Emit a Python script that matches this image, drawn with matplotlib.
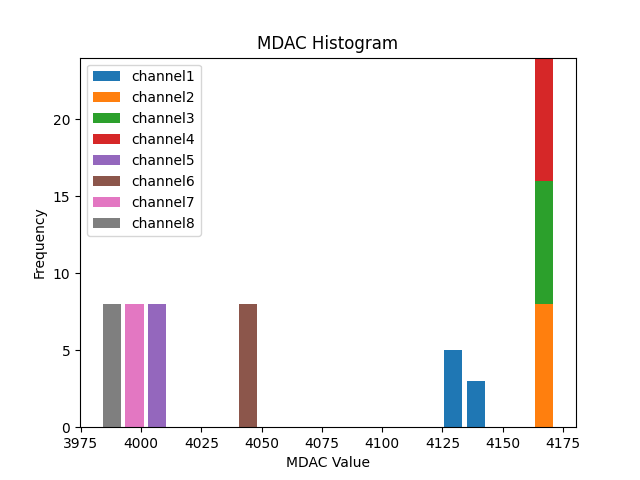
import matplotlib
matplotlib.use("Agg")
import matplotlib.pyplot as plt

# === DATA (8 readings per channel) ===
labels = ['channel1', 'channel2', 'channel3', 'channel4',
          'channel5', 'channel6', 'channel7', 'channel8']
channel1 = [4129, 4129, 4129, 4129, 4129, 4139, 4139, 4139]
channel2 = [4172] * 8
channel3 = [4172] * 8
channel4 = [4172] * 8
channel5 = [4006] * 8
channel6 = [4044] * 8
channel7 = [3997] * 8
channel8 = [3983] * 8

data = [channel1, channel2, channel3, channel4,
        channel5, channel6, channel7, channel8]

# === PLOT ===
fig = plt.figure(figsize=(6.4, 4.8), dpi=100)
plt.hist(data, bins=20, stacked=True, rwidth=0.8, label=labels)
plt.margins(y=0)  # stack top sits on the axes frame

plt.title("MDAC Histogram")
plt.xlabel("MDAC Value")
plt.ylabel("Frequency")
plt.legend(loc="upper left")
plt.savefig("out.png")
